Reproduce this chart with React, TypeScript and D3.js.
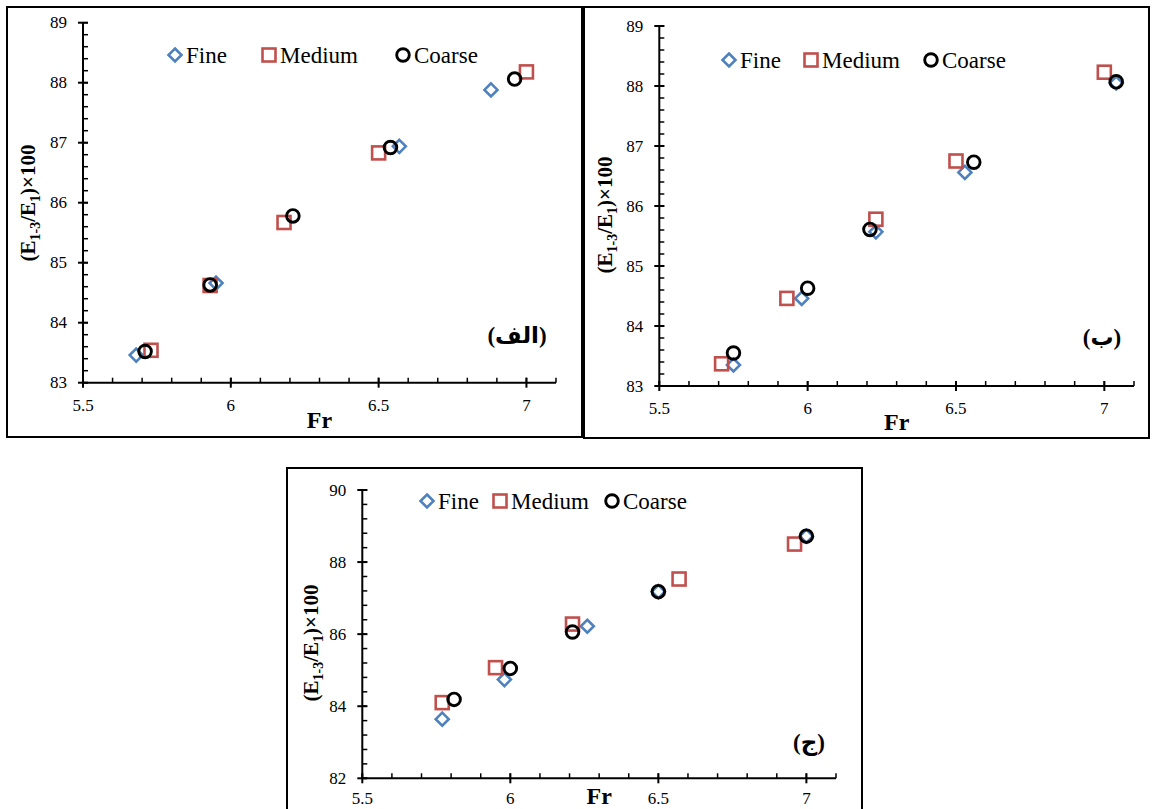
import React from "react";
import * as d3 from "d3";

// ---------- DATA ----------
const xTickValues = [5.5, 6, 6.5, 7];
const xTickLabels = ["5.5", "6", "6.5", "7"];

const fineA_x = [5.68, 5.95, 6.57, 6.88];
const fineA_y = [83.46, 84.66, 86.94, 87.88];
const mediumA_x = [5.73, 5.93, 6.18, 6.5, 7.0];
const mediumA_y = [83.54, 84.62, 85.67, 86.83, 88.18];
const coarseA_x = [5.71, 5.93, 6.21, 6.54, 6.96];
const coarseA_y = [83.52, 84.63, 85.78, 86.92, 88.06];

const fineB_x = [5.75, 5.98, 6.23, 6.53, 7.04];
const fineB_y = [83.35, 84.46, 85.57, 86.56, 88.05];
const mediumB_x = [5.71, 5.93, 6.23, 6.5, 7.0];
const mediumB_y = [83.37, 84.46, 85.78, 86.75, 88.23];
const coarseB_x = [5.75, 6.0, 6.21, 6.56, 7.04];
const coarseB_y = [83.55, 84.63, 85.61, 86.73, 88.07];

const fineC_x = [5.77, 5.98, 6.26, 6.5, 7.0];
const fineC_y = [83.64, 84.74, 86.22, 87.18, 88.72];
const mediumC_x = [5.77, 5.95, 6.21, 6.57, 6.96];
const mediumC_y = [84.1, 85.07, 86.28, 87.53, 88.5];
const coarseC_x = [5.81, 6.0, 6.21, 6.5, 7.0];
const coarseC_y = [84.19, 85.05, 86.06, 87.18, 88.72];

const yTicksAB = [83, 84, 85, 86, 87, 88, 89];
const yTicksC = [82, 84, 86, 88, 90];

const seriesNames = ["Fine", "Medium", "Coarse"];
const panelLabels = ["(الف)", "(ب)", "(ج)"];

// ---------- STYLE ----------
const BLUE = "#4F81BD";
const RED = "#C0504D";
const SERIF = "'Liberation Serif', 'Times New Roman', 'DejaVu Serif', serif";
const ARABIC = "'Liberation Serif', 'Times New Roman', 'DejaVu Sans', serif";

type Pts = { x: number[]; y: number[] };

interface PanelCfg {
  frame: { x: number; y: number; w: number; h: number };
  xr: [number, number];
  yr: [number, number];
  yDomain: [number, number];
  yTicks: number[];
  yMinorStep: number;
  fine: Pts;
  medium: Pts;
  coarse: Pts;
  legendY: number;
  legendX: [number, number, number];
  label: string;
  labelPos: [number, number];
  yTitle: [number, number];
  frY: number;
  xLabelDy: number;
}

const Diamond = ({ cx, cy }: { cx: number; cy: number }) => {
  const r = 6.5;
  return (
    <path
      d={`M${cx},${cy - r}L${cx + r},${cy}L${cx},${cy + r}L${cx - r},${cy}Z`}
      fill="none"
      stroke={BLUE}
      strokeWidth={2.6}
    />
  );
};
const Square = ({ cx, cy }: { cx: number; cy: number }) => {
  const s = 13;
  return (
    <rect x={cx - s / 2} y={cy - s / 2} width={s} height={s} fill="none" stroke={RED} strokeWidth={2.6} />
  );
};
const Circle = ({ cx, cy }: { cx: number; cy: number }) => (
  <circle cx={cx} cy={cy} r={6.3} fill="none" stroke="#000" strokeWidth={2.9} />
);

const Panel = ({ c }: { c: PanelCfg }) => {
  const x = d3.scaleLinear().domain([5.5, 7.1]).range(c.xr);
  const y = d3.scaleLinear().domain(c.yDomain).range(c.yr);
  const xMinor = d3.range(0, 17).map((i) => 5.5 + i * 0.1);
  const nMinorY = Math.round((c.yDomain[1] - c.yDomain[0]) / c.yMinorStep);
  const yMinor = d3.range(0, nMinorY + 1).map((i) => c.yDomain[0] + i * c.yMinorStep);
  const ax = c.xr[0];
  const ay = c.yr[0];
  const fr = c.frame;
  return (
    <g>
      <rect x={fr.x} y={fr.y} width={fr.w} height={fr.h} fill="#fff" stroke="#000" strokeWidth={2} />
      {/* y axis */}
      <line x1={ax} x2={ax} y1={c.yr[0]} y2={c.yr[1]} stroke="#000" strokeWidth={2} />
      {yMinor.map((v, i) => (
        <line key={"ym" + i} x1={ax} x2={ax + 5} y1={y(v)} y2={y(v)} stroke="#000" strokeWidth={1.5} />
      ))}
      {c.yTicks.map((v) => (
        <g key={"yt" + v}>
          <line x1={ax - 5} x2={ax + 5} y1={y(v)} y2={y(v)} stroke="#000" strokeWidth={2} />
          <text x={ax - 16} y={y(v) + 5.5} textAnchor="end" fontFamily={SERIF} fontSize={17} fill="#000">
            {v}
          </text>
        </g>
      ))}
      {/* x axis */}
      <line x1={c.xr[0]} x2={c.xr[1]} y1={ay} y2={ay} stroke="#000" strokeWidth={2} />
      {xMinor.map((v, i) => (
        <line key={"xm" + i} x1={x(v)} x2={x(v)} y1={ay} y2={ay - 5} stroke="#000" strokeWidth={1.5} />
      ))}
      {xTickValues.map((v, i) => (
        <g key={"xt" + v}>
          <line x1={x(v)} x2={x(v)} y1={ay - 5} y2={ay + 5} stroke="#000" strokeWidth={2} />
          <text x={x(v)} y={ay + c.xLabelDy} textAnchor="middle" fontFamily={SERIF} fontSize={17} fill="#000">
            {xTickLabels[i]}
          </text>
        </g>
      ))}
      {/* axis titles */}
      <text
        x={(c.xr[0] + c.xr[1]) / 2}
        y={ay + c.frY}
        textAnchor="middle"
        fontFamily={SERIF}
        fontWeight="bold"
        fontSize={24}
      >
        Fr
      </text>
      <text
        transform={`translate(${c.yTitle[0]},${c.yTitle[1]}) rotate(-90)`}
        textAnchor="middle"
        fontFamily={SERIF}
        fontWeight="bold"
        fontSize={21}
      >
        (E<tspan fontSize={14} dy={5}>1-3</tspan>
        <tspan dy={-5}>/E</tspan>
        <tspan fontSize={14} dy={5}>1</tspan>
        <tspan dy={-5}>)×100</tspan>
      </text>
      {/* points */}
      {c.fine.x.map((v, i) => (
        <Diamond key={"f" + i} cx={x(v)} cy={y(c.fine.y[i])} />
      ))}
      {c.medium.x.map((v, i) => (
        <Square key={"m" + i} cx={x(v)} cy={y(c.medium.y[i])} />
      ))}
      {c.coarse.x.map((v, i) => (
        <Circle key={"c" + i} cx={x(v)} cy={y(c.coarse.y[i])} />
      ))}
      {/* legend */}
      <Diamond cx={c.legendX[0]} cy={c.legendY} />
      <text x={c.legendX[0] + 11} y={c.legendY + 7.5} fontFamily={SERIF} fontSize={23}>
        {seriesNames[0]}
      </text>
      <Square cx={c.legendX[1]} cy={c.legendY} />
      <text x={c.legendX[1] + 11} y={c.legendY + 7.5} fontFamily={SERIF} fontSize={23}>
        {seriesNames[1]}
      </text>
      <Circle cx={c.legendX[2]} cy={c.legendY} />
      <text x={c.legendX[2] + 11} y={c.legendY + 7.5} fontFamily={SERIF} fontSize={23}>
        {seriesNames[2]}
      </text>
      {/* panel label */}
      <text
        x={c.labelPos[0]}
        y={c.labelPos[1]}
        textAnchor="middle"
        fontFamily={ARABIC}
        fontWeight="bold"
        fontSize={23}
        direction="rtl"
      >
        {c.label}
      </text>
    </g>
  );
};

const panels: PanelCfg[] = [
  {
    frame: { x: 7, y: 7, w: 575, h: 430 },
    xr: [83, 556],
    yr: [382.7, 22.7],
    yDomain: [83, 89],
    yTicks: yTicksAB,
    yMinorStep: 0.2,
    fine: { x: fineA_x, y: fineA_y },
    medium: { x: mediumA_x, y: mediumA_y },
    coarse: { x: coarseA_x, y: coarseA_y },
    legendY: 55,
    legendX: [175, 269, 403],
    label: panelLabels[0],
    labelPos: [517, 343],
    yTitle: [35, 203],
    frY: 45,
    xLabelDy: 28,
  },
  {
    frame: { x: 584, y: 7, w: 565, h: 431 },
    xr: [659.3, 1134],
    yr: [386, 26],
    yDomain: [83, 89],
    yTicks: yTicksAB,
    yMinorStep: 0.2,
    fine: { x: fineB_x, y: fineB_y },
    medium: { x: mediumB_x, y: mediumB_y },
    coarse: { x: coarseB_x, y: coarseB_y },
    legendY: 60,
    legendX: [729, 811, 931],
    label: panelLabels[1],
    labelPos: [1102, 345],
    yTitle: [612, 215],
    frY: 44,
    xLabelDy: 28,
  },
  {
    frame: { x: 287, y: 468, w: 575, h: 360 },
    xr: [362.3, 836],
    yr: [778.3, 490],
    yDomain: [82, 90],
    yTicks: yTicksC,
    yMinorStep: 0.4,
    fine: { x: fineC_x, y: fineC_y },
    medium: { x: mediumC_x, y: mediumC_y },
    coarse: { x: coarseC_x, y: coarseC_y },
    legendY: 501,
    legendX: [427, 500, 612],
    label: panelLabels[2],
    labelPos: [809, 750],
    yTitle: [318, 643],
    frY: 26,
    xLabelDy: 26,
  },
];

export default function App() {
  return (
    <svg
      width={1152}
      height={809}
      style={{ position: "absolute", left: 0, top: 0, display: "block", background: "#fff" }}
    >
      <rect x={0} y={0} width={1152} height={809} fill="#fff" />
      {panels.map((p, i) => (
        <Panel key={i} c={p} />
      ))}
    </svg>
  );
}
